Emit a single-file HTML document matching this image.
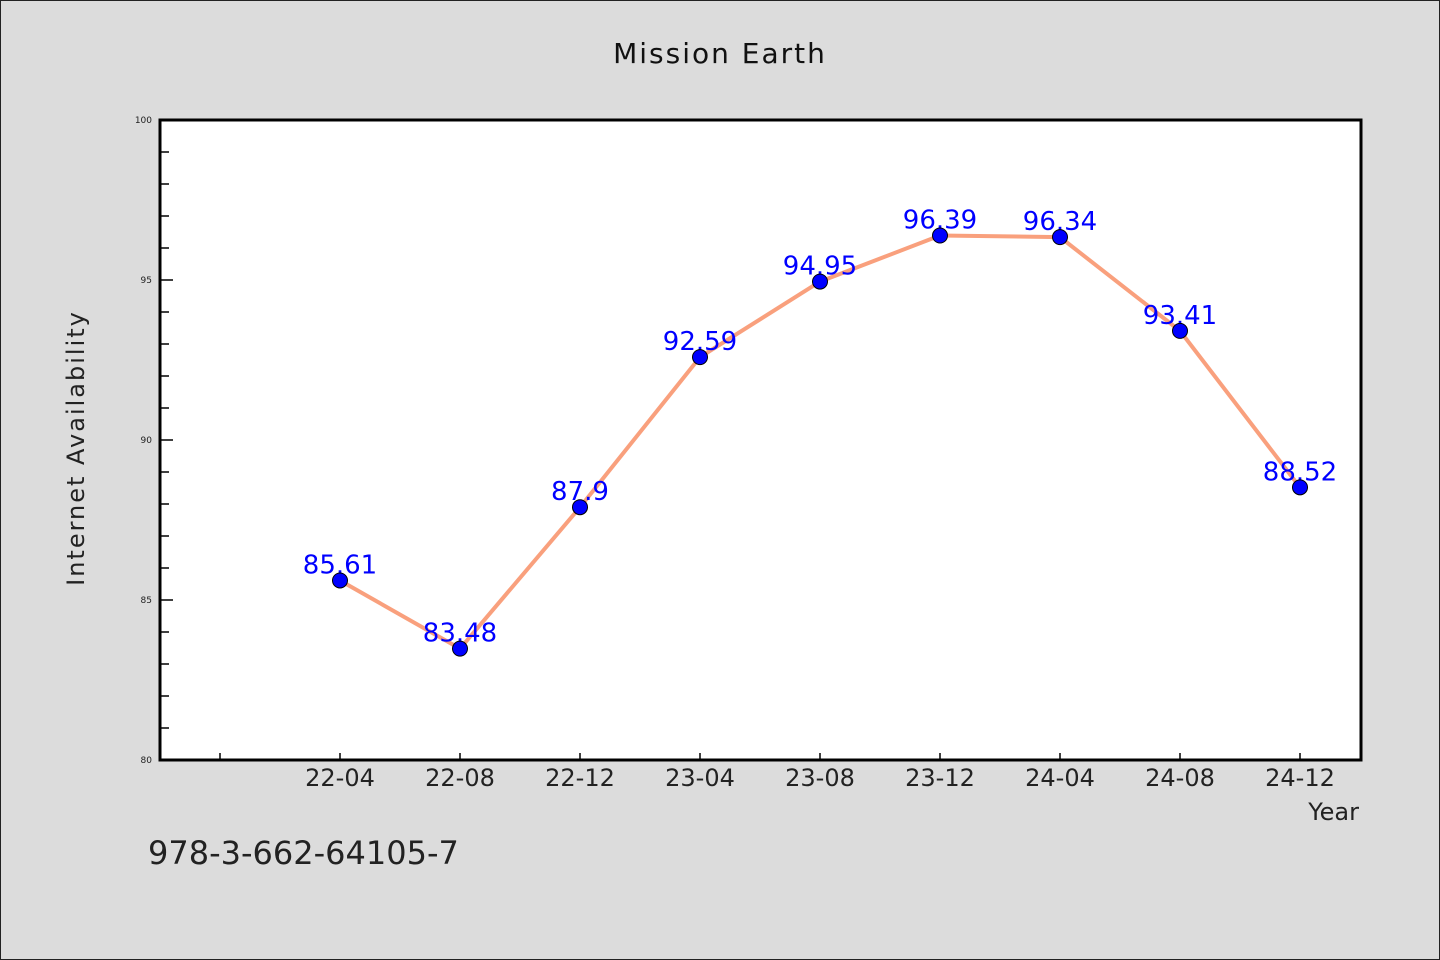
<!DOCTYPE html>
<html><head><meta charset="utf-8"><style>
html,body{margin:0;padding:0;background:#dcdcdc}
svg{display:block}
text{font-family:"DejaVu Sans","Liberation Sans",sans-serif}
</style></head><body>
<svg id="chart" width="1440" height="960" xmlns="http://www.w3.org/2000/svg">
<rect x="0.5" y="0.5" width="1439" height="959" fill="#dcdcdc" stroke="#222" stroke-width="1"/>
<text x="720" y="63" font-size="28" text-anchor="middle" fill="#111" letter-spacing="2">Mission Earth</text>
<rect x="160" y="120" width="1201" height="640" fill="#fff"/>
<g id="axes"></g>
<g id="series"></g>
<rect x="160" y="120" width="1201" height="640" fill="none" stroke="#000" stroke-width="3"/>
<text transform="translate(84,448) rotate(-90)" font-size="24" text-anchor="middle" fill="#222" letter-spacing="2">Internet Availability</text>
<text x="1359" y="820" font-size="24" text-anchor="end" fill="#222">Year</text>
<text x="148" y="864" font-size="32" fill="#222">978-3-662-64105-7</text>
</svg>
<script>
const categories=["22-04","22-08","22-12","23-04","23-08","23-12","24-04","24-08","24-12"];
const values=[85.61,83.48,87.9,92.59,94.95,96.39,96.34,93.41,88.52];
const valueLabels=["85.61","83.48","87.9","92.59","94.95","96.39","96.34","93.41","88.52"];
const yTicks=[80,85,90,95,100];
const yMin=80,yMax=100;
const NS="http://www.w3.org/2000/svg";
function xScale(i){return 220+120*(i+1);}
function yScale(v){return 760-(v-yMin)/(yMax-yMin)*640;}
function mk(t,a,p){const e=document.createElementNS(NS,t);for(const k in a)e.setAttribute(k,a[k]);p.appendChild(e);return e;}
const axes=document.getElementById('axes'),series=document.getElementById('series');
for(let v=yMin;v<=yMax;v++){
  const y=yScale(v),major=yTicks.includes(v);
  const l=mk('line',{x1:160,x2:major?173:169,y1:y,y2:y,stroke:'#000','stroke-width':1.5},axes);
  
  
}
yTicks.forEach(v=>{
  const t=mk('text',{x:152,y:yScale(v)+3,'font-size':9,'text-anchor':'end',fill:'#222'},axes);
  t.textContent=v;
  
  
});
for(let i=-1;i<categories.length;i++){
  const x=xScale(i);
  const l=mk('line',{x1:x,x2:x,y1:760,y2:753,stroke:'#000','stroke-width':1.5},axes);
  
  
  if(i>=0){
    const t=mk('text',{x:x,y:786,'font-size':24,'text-anchor':'middle',fill:'#222'},axes);
    t.textContent=categories[i];
    
    
  }
}
const pts=values.map((v,i)=>xScale(i)+','+yScale(v)).join(' ');
const line=mk('polyline',{points:pts,fill:'none',stroke:'#f9a07d','stroke-width':4,'stroke-linejoin':'round'},series);


values.forEach((v,i)=>{
  const t=mk('text',{x:xScale(i),y:yScale(v)-7,'font-size':26,'text-anchor':'middle',fill:'#0000ff'},series);
  t.textContent=valueLabels[i];
  
  
});
values.forEach((v,i)=>{
  const c=mk('circle',{cx:xScale(i),cy:yScale(v),r:7.5,fill:'#0000ff',stroke:'#000','stroke-width':1},series);
  
  
});
</script>
</body></html>
